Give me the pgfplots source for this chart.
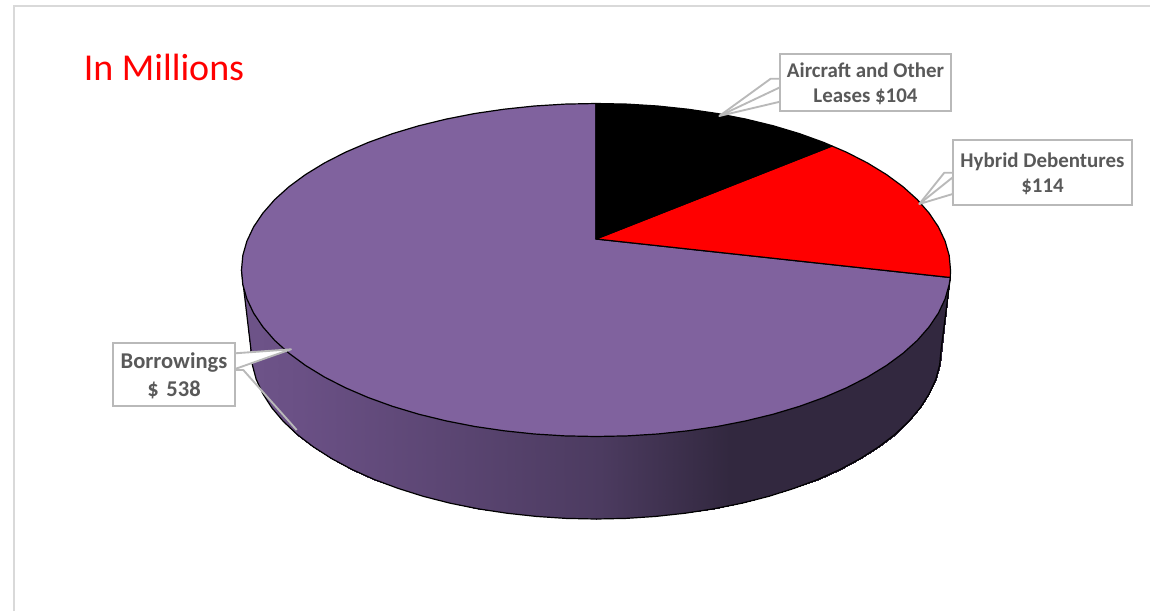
\documentclass[border=0pt]{standalone}
\usepackage{pgfplots}
\pgfplotsset{compat=1.18}
\usepackage{fontspec}
\setmainfont{Carlito}
\definecolor{pur}{RGB}{128,98,158}
\definecolor{lbl}{RGB}{89,89,89}
\definecolor{cal}{RGB}{185,185,185}
\definecolor{frm}{RGB}{217,217,217}
\pgfplotstableread{
x y
241.5 267
242.8 281.5
246.9 295.9
253.6 310.1
262.9 323.9
274.7 337.4
289 350.3
305.6 362.5
324.4 374
345.3 384.7
368.1 394.5
392.7 403.4
418.7 411.2
446.2 417.9
474.8 423.5
504.2 427.8
534.4 431
565.1 432.9
596 433.5
626.9 432.9
657.6 431
687.8 427.8
717.2 423.5
745.8 417.9
773.3 411.2
799.3 403.4
823.9 394.5
846.7 384.7
867.6 374
886.4 362.5
903 350.3
917.3 337.4
929.1 323.9
938.4 310.1
945.1 295.9
949.2 281.5
950.5 267
251 350
252.3 364.7
256.2 379.3
262.8 393.7
271.8 407.8
283.3 421.4
297.2 434.5
313.4 446.9
331.7 458.6
352 469.5
374.2 479.5
398.1 488.4
423.5 496.4
450.2 503.2
478 508.8
506.7 513.2
536.1 516.4
565.9 518.4
596 519
626.1 518.4
655.9 516.4
685.3 513.2
714 508.8
741.8 503.2
768.5 496.4
793.9 488.4
817.8 479.5
840 469.5
860.3 458.6
878.6 446.9
894.8 434.5
908.7 421.4
920.2 407.8
929.2 393.7
935.8 379.3
939.7 364.7
941 350
}\sidetable
\begin{document}
\begin{tikzpicture}
\begin{axis}[
  scale only axis, width=862.5pt, height=458.25pt,
  xmin=0, xmax=1150, ymin=0, ymax=611, y dir=reverse,
  hide axis, clip=true,
  colormap={side}{rgb255(241)=(110,84,137) rgb255(300)=(106,80,133) rgb255(600)=(76,59,96) rgb255(730)=(50,40,63) rgb255(951)=(50,40,63)},
  point meta min=241, point meta max=951,
]
% keeps the page at the full size of the axis
\addplot[draw=none, forget plot] coordinates {(0,0)(1150,611)};
% frame
\addplot[frm, line width=1.5pt, forget plot] coordinates {(14,611) (14,6) (1150,6)};
% side of the pie
\addplot[surf, shader=interp, mesh/ordering=x varies, mesh/cols=37, point meta=x, forget plot] table[x=x,y=y] {\sidetable};
% outline of the side
\addplot[black, line width=0.9pt, forget plot] coordinates {
(241.5,270)(251,350)(252.3,364.7)(256.2,379.3)(262.8,393.7)(271.8,407.8)(283.3,421.4)(297.2,434.5)(313.4,446.9)(331.7,458.6)(352,469.5)(374.2,479.5)(398.1,488.4)(423.5,496.4)(450.2,503.2)(478,508.8)(506.7,513.2)(536.1,516.4)(565.9,518.4)(596,519)(626.1,518.4)(655.9,516.4)(685.3,513.2)(714,508.8)(741.8,503.2)(768.5,496.4)(793.9,488.4)(817.8,479.5)(840,469.5)(860.3,458.6)(878.6,446.9)(894.8,434.5)(908.7,421.4)(920.2,407.8)(929.2,393.7)(935.8,379.3)(939.7,364.7)(941,350)(950.3,277.5)};
% Borrowings slice
\addplot[fill=pur, draw=black, line width=0.9pt, line join=round, forget plot] coordinates {
(596,239)(950.3,277.5)(949.2,284.5)(945.1,298.9)(938.4,313.1)(929.1,326.9)(917.3,340.4)(903,353.3)(886.4,365.5)(867.6,377)(846.7,387.7)(823.9,397.5)(799.3,406.4)(773.3,414.2)(745.8,420.9)(717.2,426.5)(687.8,430.8)(657.6,434)(626.9,435.9)(596,436.5)(565.1,435.9)(534.4,434)(504.2,430.8)(474.8,426.5)(446.2,420.9)(418.7,414.2)(392.7,406.4)(368.1,397.5)(345.3,387.7)(324.4,377)(305.6,365.5)(289,353.3)(274.7,340.4)(262.9,326.9)(253.6,313.1)(246.9,298.9)(242.8,284.5)(241.5,270)(242.8,255.5)(246.9,241.1)(253.6,226.9)(262.9,213.1)(274.7,199.6)(289,186.7)(305.6,174.5)(324.4,163)(345.3,152.3)(368.1,142.5)(392.7,133.6)(418.7,125.8)(446.2,119.1)(474.8,113.5)(504.2,109.2)(534.4,106)(565.1,104.1)(596,103.5)} --cycle;
% Hybrid Debentures slice
\addplot[fill=red, draw=black, line width=0.9pt, line join=round, forget plot] coordinates {
(596,239)(832,146)(846.7,152.3)(867.6,163)(886.4,174.5)(903,186.7)(917.3,199.6)(929.1,213.1)(938.4,226.9)(945.1,241.1)(949.2,255.5)(950.5,270)(950.3,277.5)} --cycle;
% Aircraft slice
\addplot[fill=black, draw=black, line width=0.9pt, line join=round, forget plot] coordinates {
(596,239)(596,103.5)(626.9,104.1)(657.6,106)(687.8,109.2)(717.2,113.5)(745.8,119.1)(773.3,125.8)(799.3,133.6)(823.9,142.5)(832,146)} --cycle;
% callouts
\addplot[fill=white, draw=cal, line width=1.4pt, line join=round, forget plot] coordinates {(780,87.3)(719.3,116)(780,101.7)} --cycle;
\addplot[cal, line width=1.4pt, line join=round, forget plot] coordinates {(780,78.7)(770.7,78.7)(719.3,116)};
\addplot[fill=white, draw=cal, line width=1.4pt, forget plot] coordinates {(780,54)(950.7,54)(950.7,110.7)(780,110.7)} --cycle;
\addplot[fill=white, draw=cal, line width=1.4pt, line join=round, forget plot] coordinates {(952.7,177.3)(919.3,204)(952.7,194)} --cycle;
\addplot[cal, line width=1.4pt, line join=round, forget plot] coordinates {(952.7,172.7)(944.3,172.7)(919.3,204)};
\addplot[fill=white, draw=cal, line width=1.4pt, forget plot] coordinates {(952.7,140)(1132,140)(1132,204.7)(952.7,204.7)} --cycle;
\addplot[fill=white, draw=cal, line width=1.4pt, line join=round, forget plot] coordinates {(235,353.3)(291,349.3)(235,369)} --cycle;
\addplot[cal, line width=1.4pt, line join=round, forget plot] coordinates {(235,370)(243.3,370)(296.7,430)};
\addplot[fill=white, draw=cal, line width=1.4pt, forget plot] coordinates {(112.7,342.7)(235,342.7)(235,405.7)(112.7,405.7)} --cycle;
% text
\node[red, anchor=center, font=\fontsize{28.5}{32}\selectfont] at (axis cs:164,67.5) {In Millions};
\node[lbl, align=center, font=\fontsize{15.7}{18.75}\selectfont\bfseries] at (axis cs:865.5,84) {Aircraft and Other\\Leases \$104};
\node[lbl, align=center, font=\fontsize{15.7}{18.75}\selectfont\bfseries] at (axis cs:1042.5,174) {Hybrid Debentures\\\$114};
\node[lbl, align=center, font=\fontsize{16.9}{21}\selectfont\bfseries] at (axis cs:174,375.5) {Borrowings\\\$\hspace{2pt} 538};
\end{axis}
\end{tikzpicture}
\end{document}
